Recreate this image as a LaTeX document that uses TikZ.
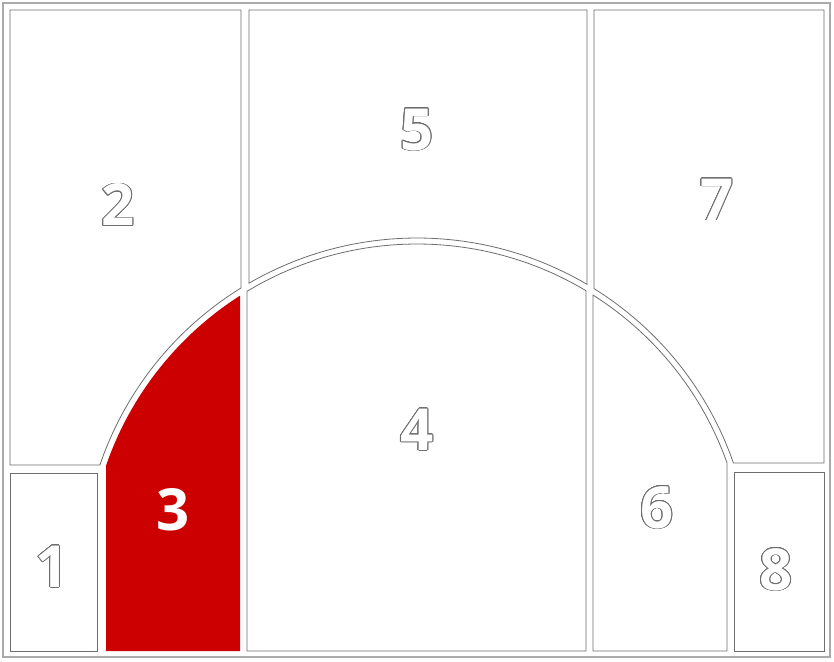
\documentclass[tikz,border=0pt]{standalone}
\usepackage{fontspec}
\newfontfamily\numfont{Open Sans}
\usepackage{contour}
\contourlength{0.6pt}
\contournumber{24}
\usetikzlibrary{calc}
\definecolor{rred}{RGB}{205,0,0}
\definecolor{edge}{RGB}{110,110,110}
\definecolor{frame}{RGB}{170,170,170}
\begin{document}
\begin{tikzpicture}[x=1pt,y=1pt,
  region/.style={draw=edge, line width=0.8pt, fill=white},
  hot/.style={fill=rred, draw=none},
  num/.style={font=\numfont\bfseries\fontsize{58}{60}\selectfont, inner sep=0pt, text=white},
]
\useasboundingbox (0,0) rectangle (834,-661);
\fill[white] (0,0) rectangle (834,-661);
\draw[frame, line width=1.4pt] (3,-3) rectangle (830,-657);

\coordinate (C) at (417,-573);
\pgfmathsetmacro\Ro{335}
\pgfmathsetmacro\Ri{329}
% outer arc angles
\pgfmathsetmacro\aTwoS{acos((241-417)/\Ro)}
\pgfmathsetmacro\aTwoE{180-asin((573-465)/\Ro)}
\pgfmathsetmacro\aFiveS{acos((587-417)/\Ro)}
\pgfmathsetmacro\aFiveE{acos((249-417)/\Ro)}
\pgfmathsetmacro\aSevS{asin((573-463)/\Ro)}
\pgfmathsetmacro\aSevE{acos((594-417)/\Ro)}
% inner arc angles
\pgfmathsetmacro\aThrS{acos((106-417)/\Ri)}
\pgfmathsetmacro\aThrE{acos((240-417)/\Ri)}
\pgfmathsetmacro\aFourS{acos((247-417)/\Ri)}
\pgfmathsetmacro\aFourE{acos((586-417)/\Ri)}
\pgfmathsetmacro\aSixS{acos((593-417)/\Ri)}
\pgfmathsetmacro\aSixE{acos((727-417)/\Ri)}

% region 2
\path[region] (10,-10) -- (241,-10) -- ($(C)+(\aTwoS:\Ro)$)
  arc[start angle=\aTwoS, end angle=\aTwoE, radius=\Ro] -- (10,-465) -- cycle;
% region 5
\path[region] (249,-10) -- (587,-10) -- ($(C)+(\aFiveS:\Ro)$)
  arc[start angle=\aFiveS, end angle=\aFiveE, radius=\Ro] -- cycle;
% region 7
\path[region] (594,-10) -- (824,-10) -- (824,-463) -- ($(C)+(\aSevS:\Ro)$)
  arc[start angle=\aSevS, end angle=\aSevE, radius=\Ro] -- cycle;
% region 1
\path[region] (10,-473) rectangle (97,-651);
% region 3
\path[hot] (106,-651) -- ($(C)+(\aThrS:\Ri)$)
  arc[start angle=\aThrS, end angle=\aThrE, radius=\Ri] -- (240,-651) -- cycle;
% region 4
\path[region] (247,-651) -- ($(C)+(\aFourS:\Ri)$)
  arc[start angle=\aFourS, end angle=\aFourE, radius=\Ri] -- (586,-651) -- cycle;
% region 6
\path[region] (593,-651) -- ($(C)+(\aSixS:\Ri)$)
  arc[start angle=\aSixS, end angle=\aSixE, radius=\Ri] -- (727,-651) -- cycle;
% region 8
\path[region] (734,-472) rectangle (824,-651);

% labels
\node[num] (n1) at (52,-567) {\contour{edge}{1}};
\node[num] (n2) at (118,-205) {\contour{edge}{2}};
\node[num] (n3) at (173,-510) {3};
\node[num] (n4) at (417,-430) {\contour{edge}{4}};
\node[num] (n5) at (417,-130) {\contour{edge}{5}};
\node[num] (n6) at (657,-508) {\contour{edge}{6}};
\node[num] (n7) at (717,-200) {\contour{edge}{7}};
\node[num] (n8) at (776,-570) {\contour{edge}{8}};
\end{tikzpicture}
\end{document}
